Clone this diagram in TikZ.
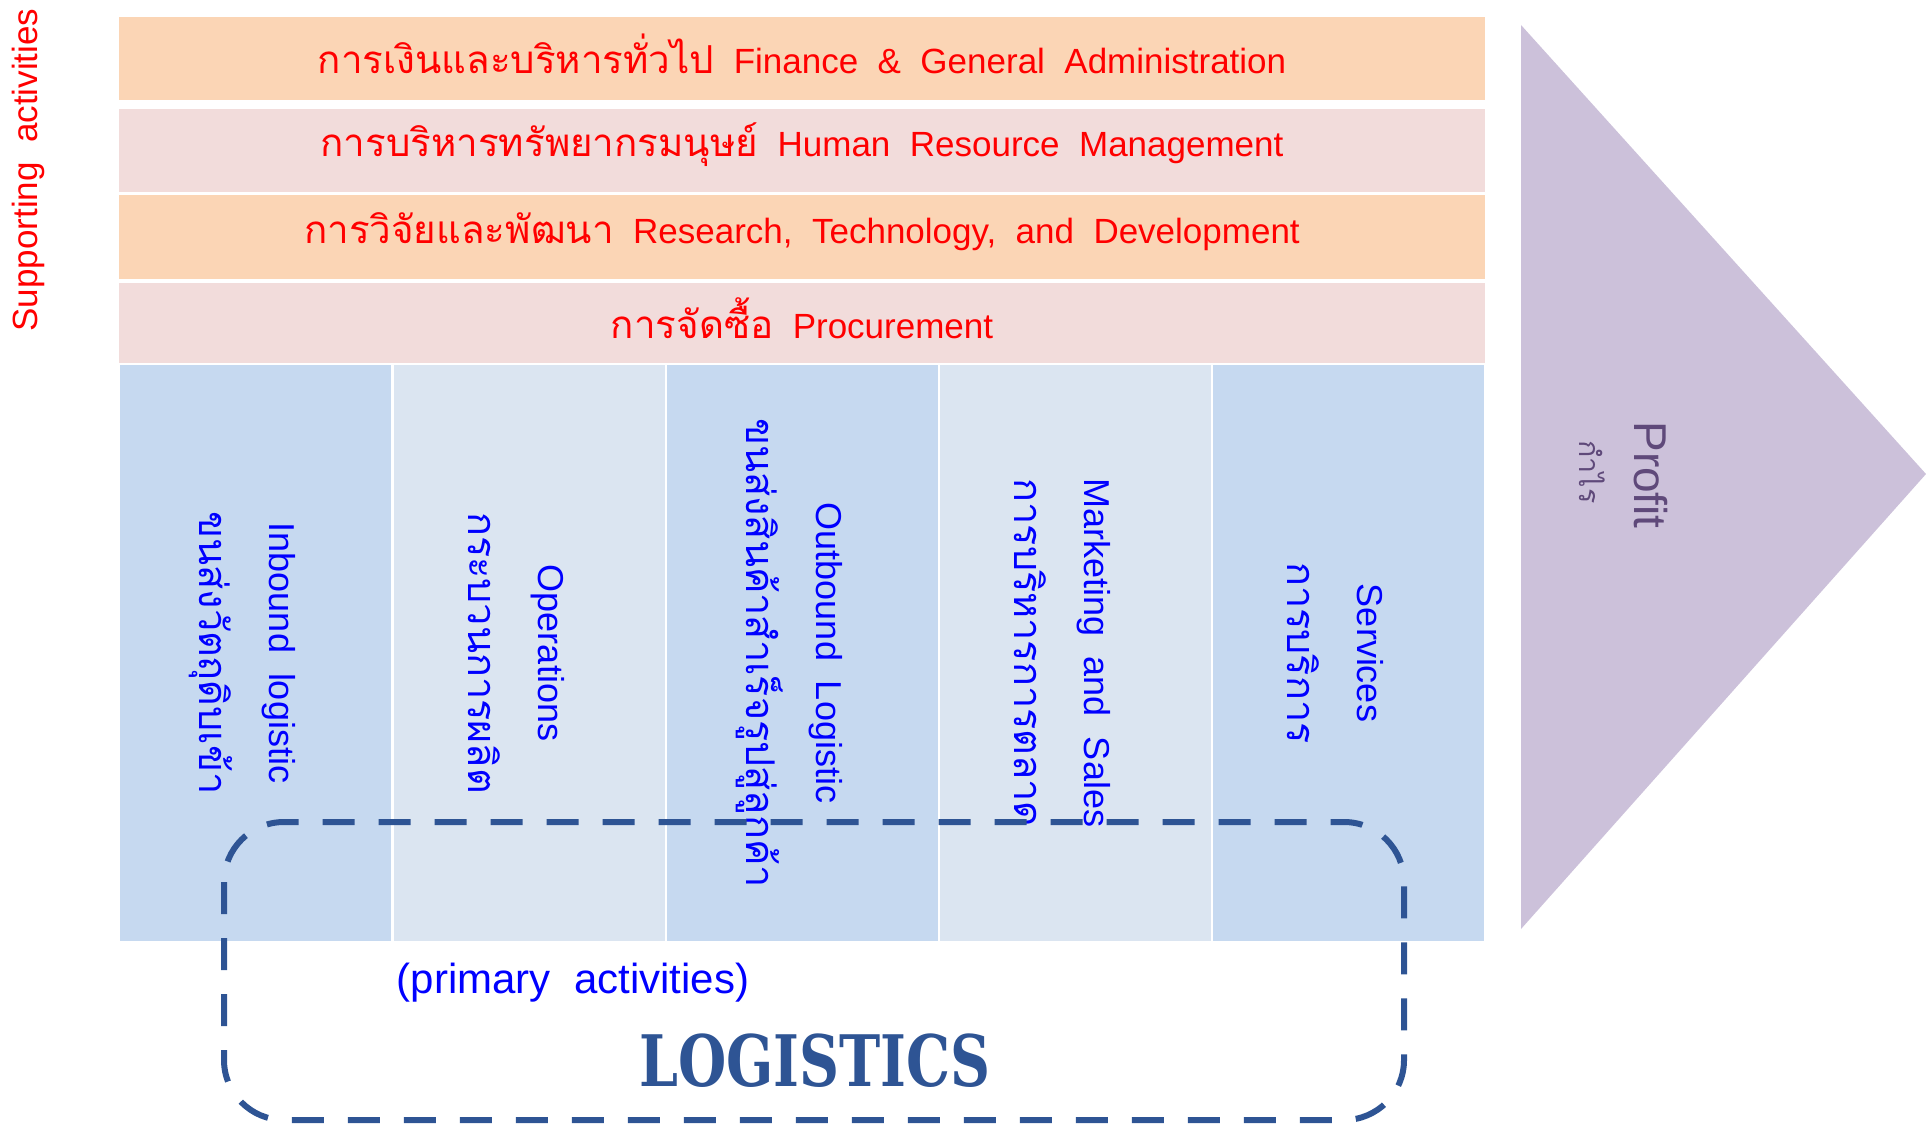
\documentclass[tikz,border=0pt]{standalone}
\usepackage{fontspec}
\setmainfont{Liberation Sans}[WordSpace=2]
\newfontfamily\thaifont[Script=Thai,Scale=1.1]{Loma}
\newfontfamily\logofont{DejaVu Serif}
\definecolor{rowA}{HTML}{FBD5B5}
\definecolor{rowB}{HTML}{F2DCDB}
\definecolor{colA}{HTML}{C6D9F0}
\definecolor{colB}{HTML}{DBE5F1}
\definecolor{profitbg}{HTML}{CCC1DA}
\definecolor{profittxt}{HTML}{5F497A}
\definecolor{logblue}{HTML}{2E5494}
\begin{document}
\begin{tikzpicture}[x=1pt,y=-1pt,
  suptext/.style={text=red,font=\fontsize{35}{42}\selectfont},
  primtext/.style={text=blue,rotate=-90,align=center,font=\fontsize{36}{70}\selectfont},
  logbox/.style={draw=logblue,line width=6pt,dash pattern=on 32pt off 24pt,rounded corners=60pt}]
\useasboundingbox (0,0) rectangle (1926,1124);
\fill[rowA] (119,17) rectangle (1485,100);
\fill[rowB] (119,109) rectangle (1485,192);
\fill[rowA] (119,195) rectangle (1485,279);
\fill[rowB] (119,283) rectangle (1485,363);
\node[suptext] (fin) at (802,54) {{\thaifont การเงินและบริหารทั่วไป} Finance \& General Administration};
\node[suptext] (hrm) at (802,145) {{\thaifont การบริหารทรัพยากรมนุษย์} Human Resource Management};
\node[suptext] (rnd) at (802,232) {{\thaifont การวิจัยและพัฒนา} Research, Technology, and Development};
\node[suptext] (proc) at (802,318) {{\thaifont การจัดซื้อ} Procurement};
\node[suptext,rotate=90] (supp) at (28,170) {Supporting activities};
\foreach \x/\c/\n/\t in {255.5/colA/inb/{Inbound logistic\\{\thaifont ขนส่งวัตถุดิบเข้า}},
  529/colB/ops/{Operations\\{\thaifont กระบวนการผลิต}},
  802/colA/outb/{Outbound Logistic\\{\thaifont ขนส่งสินค้าสำเร็จรูปสู่ลูกค้า}},
  1075/colB/mkt/{Marketing and Sales\\{\thaifont การบริหารการตลาด}},
  1348.5/colA/srv/{Services\\{\thaifont การบริการ}}}
{
  \fill[\c] (\x-135.5,365) rectangle (\x+135.5,941);
  \node[primtext] (\n) at (\x-13,653) {\t};
}
\fill[profitbg] (1521,25) -- (1521,929) -- (1926,474) -- cycle;
\node[text=profittxt,rotate=-90,font=\fontsize{46}{50}\selectfont] (profit) at (1651,475) {Profit};
\node[text=profittxt,rotate=-90,font=\thaifont\fontsize{26}{34}\selectfont] (profitth) at (1592,472) {กำไร};
\node[text=blue,font=\fontsize{42}{50}\selectfont] (prim) at (573,983) {(primary activities)};
\node[text=logblue,font=\logofont\bfseries\fontsize{71}{80}\selectfont,xscale=0.78] (logo) at (815,1061) {LOGISTICS};
\draw[logbox] (224,822) rectangle (1404,1120);
\end{tikzpicture}
\end{document}
